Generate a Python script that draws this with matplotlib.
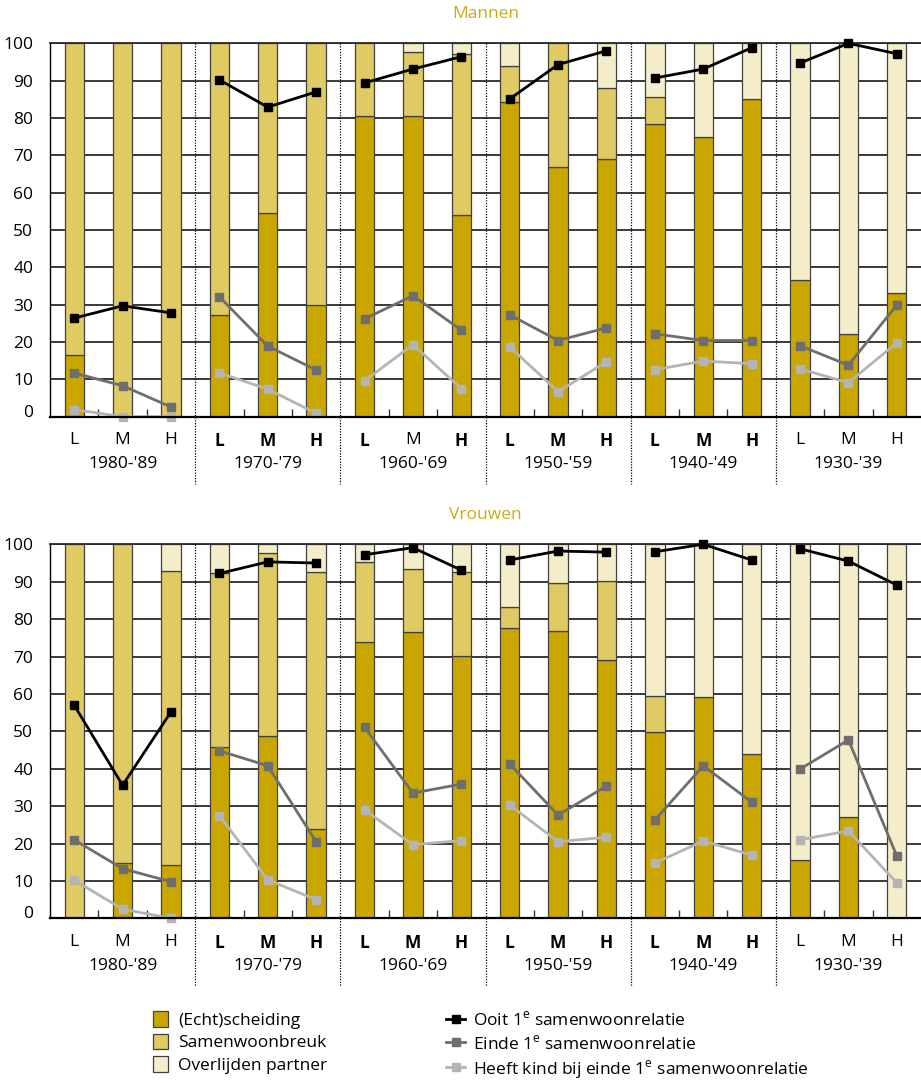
import matplotlib
matplotlib.use("Agg")
import matplotlib.pyplot as plt
import matplotlib.transforms as mtransforms
from matplotlib.patches import Patch
from matplotlib.lines import Line2D
import numpy as np

plt.rcParams['font.family'] = ['Open Sans', 'DejaVu Sans']
plt.rcParams['mathtext.fontset'] = 'custom'
plt.rcParams['mathtext.rm'] = 'Open Sans'

# ---------------- data ----------------
groups = ["1980-'89", "1970-'79", "1960-'69", "1950-'59", "1940-'49", "1930-'39"]
levels = ["L", "M", "H"]

# Mannen
m_echt = [16.5, 0, 0, 27.2, 54.5, 29.9, 80.5, 80.6, 54.1, 84.2, 66.8, 69.0, 78.5, 74.9, 85.0, 36.7, 22.1, 33.2]
m_samen = [83.5, 100, 100, 72.8, 45.5, 70.1, 19.5, 17.2, 43.1, 9.6, 33.2, 19.1, 7.1, 0, 0, 0, 0, 0]
m_overl = [0, 0, 0, 0, 0, 0, 0, 2.2, 2.8, 6.2, 0, 11.9, 14.4, 25.1, 15.0, 63.3, 77.9, 66.8]
m_ooit = [26.4, 29.7, 27.8, 90.2, 82.9, 87.0, 89.4, 93.1, 96.4, 85.1, 94.3, 98.0, 90.7, 93.1, 98.8, 94.7, 100, 97.2]
m_einde = [11.7, 8.3, 2.6, 32.1, 18.9, 12.5, 26.2, 32.4, 23.2, 27.3, 20.4, 23.8, 22.2, 20.4, 20.4, 19.0, 13.8, 29.9]
m_kind = [1.9, 0, 0, 11.7, 7.4, 0.9, 9.6, 19.3, 7.5, 18.7, 6.7, 14.7, 12.6, 14.9, 14.2, 12.8, 9.1, 19.8]
m_bold = [0, 0, 0, 1, 1, 1, 1, 0, 1, 1, 1, 1, 1, 1, 1, 0, 0, 0]

# Vrouwen
v_echt = [0, 14.9, 14.2, 45.9, 48.8, 23.8, 73.9, 76.6, 70.2, 77.5, 76.7, 69.0, 49.9, 59.1, 44.0, 15.6, 27.2, 0]
v_samen = [100, 85.1, 78.6, 46.3, 49.0, 68.8, 21.5, 16.8, 22.5, 5.8, 13.0, 21.3, 9.5, 0, 0, 0, 0, 0]
v_overl = [0, 0, 7.2, 7.8, 2.2, 7.4, 4.6, 6.6, 7.3, 16.7, 10.3, 9.7, 40.6, 40.9, 56.0, 84.4, 72.8, 100]
v_ooit = [57.0, 35.6, 55.2, 92.2, 95.3, 95.0, 97.2, 99.1, 93.1, 95.8, 98.2, 97.9, 98.0, 100, 95.8, 98.8, 95.5, 89.1]
v_einde = [21.0, 13.3, 9.8, 44.8, 40.8, 20.5, 51.1, 33.5, 35.9, 41.3, 27.6, 35.4, 26.3, 40.8, 31.1, 39.9, 47.7, 16.7]
v_kind = [10.2, 2.5, 0, 27.5, 10.3, 5.0, 29.0, 19.7, 20.8, 30.3, 20.5, 21.7, 14.8, 20.7, 16.9, 21.0, 23.4, 9.5]
v_bold = [0, 0, 0, 1, 1, 1, 1, 1, 1, 1, 1, 1, 1, 1, 1, 0, 0, 0]

bar_labels = ["(Echt)scheiding", "Samenwoonbreuk", "Overlijden partner"]
line_labels = [r"Ooit 1$^{\mathrm{e}}$ samenwoonrelatie",
               r"Einde 1$^{\mathrm{e}}$ samenwoonrelatie",
               r"Heeft kind bij einde 1$^{\mathrm{e}}$ samenwoonrelatie"]

# ---------------- style ----------------
C_ECHT = "#C9A700"
C_SAMEN = "#DFCA63"
C_OVERL = "#F4EDCA"
C_L1 = "#000000"
C_L2 = "#6E6E6E"
C_L3 = "#B4B4B4"
TITLE_C = "#CFAA14"
EDGE = "#404040"
FS = 12.5

W, H = 921, 1083
fig = plt.figure(figsize=(W / 100, H / 100), dpi=100)


def px_axes(left, top, right, bottom):
    return fig.add_axes([left / W, 1 - bottom / H, (right - left) / W, (bottom - top) / H])


def draw_panel(ax, echt, samen, overl, ooit, einde, kind, bold, title):
    n = len(echt)
    x = np.arange(n)
    bw = 0.4
    for vals, bottoms, col in [(echt, np.zeros(n), C_ECHT),
                               (samen, np.array(echt), C_SAMEN),
                               (overl, np.array(echt) + np.array(samen), C_OVERL)]:
        for xi, v, b in zip(x, vals, bottoms):
            if v > 0:
                ax.bar(xi, v, bw, bottom=b, color=col, edgecolor=EDGE, linewidth=0.9, zorder=2)

    ng = len(groups)
    for g in range(ng):
        sl = slice(3 * g, 3 * g + 3)
        for vals, col in [(kind, C_L3), (einde, C_L2), (ooit, C_L1)]:
            ax.plot(x[sl], np.array(vals)[sl], color=col, lw=2.0, marker='s', ms=6.2,
                    mec=col, mfc=col, zorder=5, clip_on=False)

    ax.set_xlim(-0.5, n - 0.5)
    ax.set_ylim(0, 100)
    ax.set_yticks(np.arange(0, 101, 10))
    ax.set_axisbelow(True)
    ax.yaxis.grid(True, color="#2a2a2a", lw=1.3, zorder=0)
    ax.tick_params(axis='y', length=0, pad=12, labelsize=FS)
    for lab in ax.get_yticklabels():
        lab.set_fontsize(FS)
    lab0 = ax.get_yticklabels()[0]
    lab0.set_transform(lab0.get_transform() + mtransforms.ScaledTranslation(0, 6 / 100, fig.dpi_scale_trans))

    ax.set_xticks(x)
    ax.set_xticklabels([levels[i % 3] for i in range(n)], fontsize=FS)
    for lab, b in zip(ax.get_xticklabels(), bold):
        lab.set_fontweight('bold' if b else 'normal')
    ax.tick_params(axis='x', which='major', length=0, pad=11)
    minor = [i + 0.5 for i in range(n - 1) if (i + 1) % 3 != 0]
    ax.set_xticks(minor, minor=True)
    ax.tick_params(axis='x', which='minor', direction='in', length=6, width=1.0, color="#333333")

    ax.spines['right'].set_visible(False)
    ax.spines['top'].set_color("#2a2a2a")
    ax.spines['top'].set_linewidth(1.3)
    ax.spines['left'].set_color("#000000")
    ax.spines['left'].set_linewidth(1.0)
    ax.spines['bottom'].set_color("#000000")
    ax.spines['bottom'].set_linewidth(1.6)
    ax.spines['bottom'].set_zorder(6)

    trans = mtransforms.blended_transform_factory(ax.transData, ax.transAxes)
    for g in range(1, ng):
        xs = 3 * g - 0.5
        ax.plot([xs, xs], [1, -0.18], transform=trans, color="#000000", lw=0.9,
                ls=(0, (1, 1.2)), clip_on=False, zorder=4)
    for g in range(ng):
        ax.text(3 * g + 1, -0.127, groups[g], transform=trans, ha='center', va='center', fontsize=FS)

    ax.text(0.5, 1.0 + 29 / 374, title, transform=ax.transAxes, ha='center', va='center',
            fontsize=FS, color=TITLE_C)


ax1 = px_axes(50, 43.3, 921, 416.7)
draw_panel(ax1, m_echt, m_samen, m_overl, m_ooit, m_einde, m_kind, m_bold, "Mannen")
ax2 = px_axes(50, 544.3, 921, 918.4)
draw_panel(ax2, v_echt, v_samen, v_overl, v_ooit, v_einde, v_kind, v_bold, "Vrouwen")

# legends
bar_handles = [Patch(facecolor=c, edgecolor=EDGE, linewidth=0.9) for c in [C_ECHT, C_SAMEN, C_OVERL]]
fig.legend(bar_handles, bar_labels, loc='upper left', bbox_to_anchor=(153 / W, 1 - 1011 / H),
           frameon=False, fontsize=FS, handlelength=0.85, handleheight=1.0,
           handletextpad=0.6, labelspacing=0.28, borderpad=0, borderaxespad=0)
line_handles = [Line2D([0], [0], color=c, lw=2.0, marker='s', ms=6.2, mfc=c, mec=c) for c in [C_L1, C_L2, C_L3]]
fig.legend(line_handles, line_labels, loc='upper left', bbox_to_anchor=(446 / W, 1 - 1011 / H),
           frameon=False, fontsize=FS, handlelength=1.1, handleheight=1.0,
           handletextpad=0.45, labelspacing=0.28, borderpad=0, borderaxespad=0)

fig.savefig("out.png", dpi=100)
